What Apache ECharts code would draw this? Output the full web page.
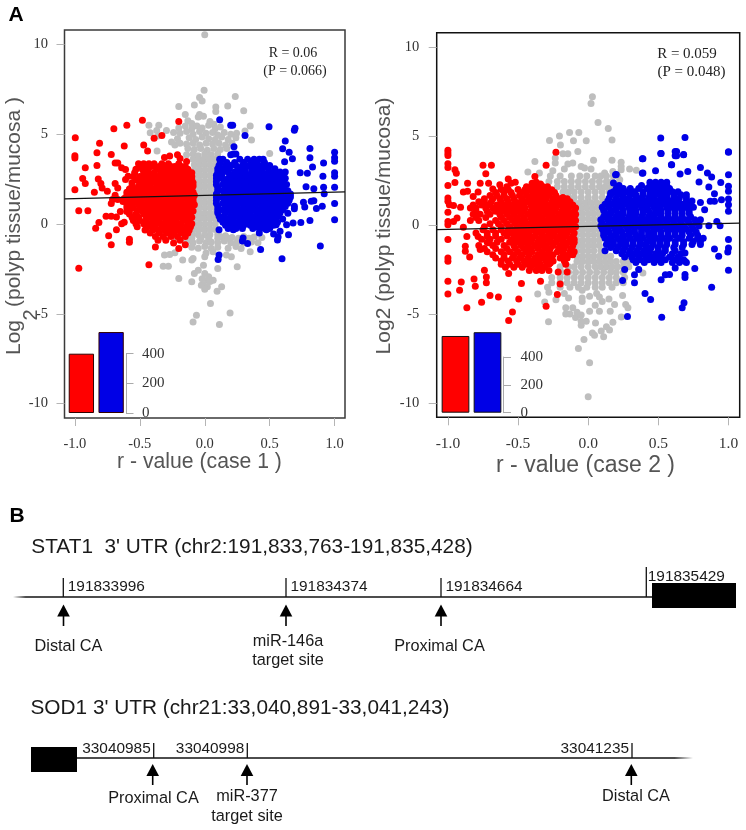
<!DOCTYPE html>
<html><head><meta charset="utf-8">
<script src="https://cdn.jsdelivr.net/npm/echarts@6/dist/echarts.min.js"></script>
<style>html,body{margin:0;padding:0;background:#fff}#c{width:746px;height:830px}</style>
</head><body><div id="c"></div>
<script>
const xTicks=[-1,-0.5,0,0.5,1];
const yTicks=[10,5,0,-5,-10];
const barNames=['negative','positive'];
const caseOneBars=[400,546];
const caseTwoBars=[551,578];
const caseOneFit=[[-1.08,1.4],[1.08,1.79]];
const caseTwoFit=[[-1.08,-0.26],[1.08,0.11]];

const caseOneGray=[[0,10.54],[-.005,7.45],[-.04,7.04],[-.02,6.85],[.235,7.1],[-.2,6.54],[-.08,6.63],[.085,6.52],[.085,6.26],[.177,6.57],[.3,6.3],[-.15,6.1],[-.04,6.1],[-.05,5.95],[-.01,6],[-.43,5.5],[-.354,5.5],[-.37,5.2],[-.295,5.2],[-.42,5.08],[-.36,4.9],[.35,5.45],[.31,5.18],[.245,5.05],[.36,4.67],[-.367,4.06],[-.256,4.56],[-.23,4.4],[.5,3.93],
[-.13,5.75],[-.1,5.6],[.04,5.7],[.07,5.55],[-.2,5.35],[-.15,5.45],[-.1,5.3],[-.06,5.45],[-.02,5.35],[.03,5.5],[.08,5.3],[.12,5.4],
[-.24,5.1],[-.19,5.05],[-.14,5.15],[-.09,5],[-.04,5.15],[.01,5.05],[.06,5.1],[.1,4.95],[.15,5.1],[.2,5],
[-.21,4.75],[-.12,4.8],[-.07,4.7],[-.02,4.85],[.03,4.75],[.08,4.7],[.13,4.85],[.18,4.7],[.24,4.8],
[-.19,4.5],[-.14,4.45],[-.09,4.5],[-.04,4.4],[.01,4.5],[.06,4.45],[.11,4.5],[.16,4.4],[.21,4.5],
[-.13,4.2],[-.08,4.15],[-.03,4.2],[.02,4.1],[.07,4.2],[.12,4.15],[.17,4.2],[-.14,3.85],[-.09,3.9],[-.05,3.8],[0,3.9],[.05,3.85],[.1,3.9],
[-.4,-.25],[-.35,-.35],[-.32,-.7],[.12,-.7],[.16,-.65],[.21,-.75],[.3,-.7],[.38,-.72],[.44,-.75],[-.14,-1],[-.09,-1.05],[-.04,-.95],[.01,-1.05],[.05,-1],[.1,-1.05],[.15,-.95],[.2,-1.05],[.25,-1],[.3,-1.05],[.36,-1],[.41,-1.05],[-.1,-1.3],[-.05,-1.35],[0,-1.25],[.05,-1.35],[.1,-1.3],[.18,-1.35],[.24,-1.25],[.28,-1.36],
[-.31,-1.73],[-.27,-1.7],[-.23,-1.6],[-.17,-2],[-.1,-2],[-.09,-1.92],[0,-1.82],[.01,-1.62],[.064,-1.55],[.167,-1.73],[.205,-1.82],[.35,-1.55],[-.32,-2.35],[-.28,-2.35],[-.01,-2.29],[.1,-2.48],[.25,-2.38],[-.05,-2.57],[-.08,-2.76],[-.2,-3.03],[-.1,-3.22],[0,-2.76],[.03,-2.94],[.02,-3.13],[.065,-3.13],[-.01,-3.4],[.02,-3.5],[.13,-3.5],[.095,-3.74],[0,-3.63],[-.026,-3.41],[.044,-4.43],[-.064,-5.08],[-.09,-5.46],[.113,-5.59],[.195,-4.95],[.04,-3.2],[-.02,-3.05]];
// dense core, one row per line: y, then x values read across the band
const caseOneGrayRows=[[3.6,-.09,-.05,-.01,.03,.07,.1],[3.3,-.08,-.04,0,.04,.08],[3,-.08,-.04,0,.04,.08],[2.7,-.08,-.04,0,.04,.08],[2.4,-.08,-.04,0,.04,.08],[2.1,-.08,-.04,0,.04,.08],[1.8,-.08,-.04,0,.04,.08],[1.5,-.08,-.04,0,.04,.08],[1.2,-.08,-.04,0,.04,.08],[.9,-.08,-.04,0,.04,.08],[.6,-.08,-.04,0,.04,.08],[.3,-.08,-.04,0,.04,.08],[0,-.08,-.04,0,.04,.08],[-.3,-.08,-.04,0,.04,.08],[-.6,-.1,-.05,0,.04,.1],[-.8,-.22,-.16,-.1,-.03,.03,.1,.18,.26,.34]];

const caseOneRed=[[-.997,4.8],[-1,3.8],[-1,3.67],[-.92,3.13],[-.81,4.5],[-.83,3.97],[-.7,5.3],[-.6,5.5],[-.48,5.77],[-.2,5.7],[-.33,4.93],[-.39,4.78],[-.47,4.4],[-.62,4.34],[-.44,4.06],[-.72,3.87],[-.83,3.26],[-.69,3.4],[-.67,3.4],[-.64,3.13],[-.61,3.03],[-.94,2.53],[-.92,2.25],[-.82,2.5],[-.8,2.25],[-.79,2],[-.69,2.25],[-.67,2],[-.61,2.48],[-.59,2.66],[-1,1.9],[-.85,1.77],[-.75,1.82],[-.69,1.6],[-.71,1.36],[-.72,1.14],[-.67,1.36],[-.97,.74],[-.9,.74],[-.76,.43],[-.72,.43],[-.68,.39],[-.65,.7],[-.6,.7],[-.815,.09],[-.84,-.24],[-.68,-.32],[-.74,-.65],[-.64,.02],[-.62,.1],[-.72,-1.15],[-.58,-1.02],[-.97,-2.46],[-.43,-2.27],[-.38,-1.28],[-.2,-1.36],[-.15,-1.15],[-.24,-1.06],[-.3,-.9],[-.36,-.9],[-.58,-.85],[-.19,-.9],[-.31,3.7],[-.27,3.78],[-.21,3.85],[-.19,3.65],[-.14,3.48]];
const caseOneRedRows=[[3.35,-.51,-.47,-.43,-.39,-.33,-.28,-.2],[3.05,-.53,-.48,-.44,-.37,-.33,-.29,-.25,-.21,-.17,-.13],[3.2,-.5,-.45,-.41,-.35,-.31,-.26,-.23,-.18,-.15],[2.85,-.54,-.47,-.43,-.39,-.34,-.3,-.26,-.22,-.18,-.14,-.1],[2.65,-.55,-.5,-.45,-.41,-.36,-.32,-.28,-.24,-.2,-.16,-.12,-.1],[2.47,-.53,-.48,-.44,-.4,-.35,-.31,-.27,-.22,-.18,-.14,-.1],[2.3,-.56,-.5,-.46,-.42,-.38,-.33,-.29,-.25,-.2,-.16,-.12,-.09],[2.12,-.56,-.51,-.46,-.42,-.37,-.32,-.28,-.24,-.2,-.16,-.12,-.09],[1.95,-.58,-.53,-.48,-.44,-.39,-.35,-.3,-.26,-.22,-.18,-.14,-.1],[1.77,-.6,-.56,-.51,-.46,-.42,-.37,-.33,-.28,-.24,-.2,-.16,-.12,-.09],[1.6,-.6,-.55,-.5,-.46,-.41,-.37,-.33,-.28,-.24,-.2,-.15,-.11,-.08],[1.42,-.62,-.57,-.52,-.48,-.44,-.39,-.35,-.3,-.26,-.22,-.17,-.13,-.09],[1.25,-.63,-.58,-.53,-.49,-.44,-.4,-.35,-.31,-.26,-.22,-.18,-.13,-.09],[1.07,-.6,-.56,-.51,-.47,-.42,-.38,-.34,-.29,-.25,-.2,-.16,-.12,-.08],[.9,-.6,-.55,-.5,-.46,-.41,-.36,-.32,-.28,-.23,-.19,-.14,-.1],[.72,-.58,-.52,-.48,-.44,-.39,-.35,-.3,-.26,-.21,-.17,-.12,-.09],[.55,-.58,-.53,-.47,-.43,-.38,-.33,-.29,-.25,-.2,-.16,-.11],[.37,-.56,-.51,-.45,-.41,-.36,-.31,-.27,-.23,-.18,-.14,-.1],[.2,-.55,-.5,-.45,-.4,-.35,-.3,-.26,-.22,-.17,-.12],[.02,-.53,-.47,-.42,-.37,-.32,-.27,-.23,-.18,-.13,-.1],[-.15,-.52,-.44,-.39,-.33,-.29,-.24,-.19,-.14,-.11],[-.33,-.46,-.4,-.36,-.31,-.26,-.21,-.16,-.12],[-.5,-.42,-.35,-.29,-.24,-.18,-.13],[-.7,-.38,-.32,-.26,-.21,-.15]];

const caseOneBlue=[[.115,5.8],[.2,5.5],[.215,5.5],[.495,5.42],[.695,5.33],[.69,5.22],[.31,4.92],[.62,4.62],[.6,4.19],[.65,4],[.81,4.2],[.81,3.69],[.225,4.3],[.22,3.9],[1,4],[1,3.69],[1,3.5],[.915,3.39],[.83,3.18],[.615,3.46],[.675,3.63],[.735,2.85],[.79,2.83],[.91,2.66],[1,2.85],[1,2.66],[.78,2.07],[.84,1.96],[.915,2.05],[.92,1.68],[1,2.05],[.76,1.21],[.77,.95],[.82,1.27],[.84,1.3],[.86,.86],[.905,.99],[1,1.14],[1,.24],[.81,.2],[.74,.09],[.68,.06],[.69,.99],[.69,.85],[.62,1.36],[.64,.6],[.6,.28],[.63,-.04],[.55,-.04],[.475,-.32],[.645,-.6],[.565,-.73],[.11,-.32],[.22,-.32],[.295,-.78],[.42,-.5],[.53,-.55],[.58,-.4],[.11,-1.73],[.103,-1.97],[.33,-1.08],[.29,-.95],[.43,-1.42],[.595,-1.94],[.89,-1.23],[.56,-.89],[.2,3.85],[.24,3.9]];
const caseOneBlueRows=[[3.6,.115,.14,.27,.33,.38,.42,.45],[3.42,.12,.17,.23,.3,.36,.4,.46],[3.25,.11,.16,.2,.24,.29,.34,.38,.42,.46,.5],[3.07,.1,.15,.19,.26,.31,.36,.4,.44,.49,.54],[2.9,.1,.14,.18,.23,.27,.31,.36,.4,.44,.49,.53,.58,.62],[2.72,.09,.13,.2,.24,.29,.33,.38,.42,.46,.51,.55,.6],[2.55,.09,.13,.18,.22,.26,.31,.35,.39,.44,.48,.52,.57,.62],[2.37,.09,.15,.2,.24,.29,.33,.38,.42,.46,.51,.55,.6],[2.2,.09,.14,.18,.22,.27,.31,.36,.4,.44,.49,.53,.58,.63],[2.02,.1,.16,.2,.25,.29,.34,.38,.43,.47,.52,.56,.61],[1.85,.1,.14,.19,.23,.28,.32,.37,.41,.46,.5,.55,.59,.64],[1.67,.09,.16,.21,.25,.3,.34,.39,.43,.48,.52,.57,.62,.66],[1.5,.09,.13,.18,.22,.27,.31,.36,.4,.45,.49,.54,.58,.63,.66],[1.32,.09,.15,.2,.25,.29,.34,.38,.43,.47,.52,.56,.61,.65],[1.15,.09,.14,.18,.23,.28,.32,.37,.41,.46,.5,.55,.6,.64],[.97,.1,.16,.21,.25,.3,.35,.39,.44,.48,.53,.58,.62],[.8,.1,.14,.19,.24,.28,.33,.37,.42,.47,.51,.56,.6],[.62,.1,.16,.21,.26,.31,.35,.4,.45,.49,.54,.58],[.45,.11,.15,.2,.25,.29,.34,.39,.43,.48,.52,.57],[.27,.12,.17,.22,.27,.31,.36,.41,.45,.5,.54],[.1,.14,.19,.23,.28,.33,.38,.42,.47,.51,.56],[-.07,.16,.21,.26,.3,.35,.4,.44,.49,.53],[-.25,.18,.24,.29,.37,.42,.46,.5]];

const caseTwoGray=[[.03,7.2],[.02,6.82],[.07,5.76],[.143,5.42],[.17,4.78],[-.205,5],[-.133,5.2],[-.067,5.2],[-.276,4.75],[-.105,4.73],[-.014,4.73],[-.198,4.5],[-.074,4.13],[-.18,4],[-.145,4],[-.38,3.57],[-.235,3.76],[-.235,3.48],[.038,3.63],[.17,3.63],[.235,3.53],[.235,3.29],[.235,3.1],[.295,3.14],[.343,3.07],[-.43,2.97],[-.348,2.92],[-.252,3.05],[-.17,3.14],[-.145,3.42],[-.11,3.48],[-.05,3.29],[-.026,3.2],[.02,3.14],[.117,2.92],[.176,3],[.225,2.54],[.39,-2.69],[.36,-2.5],[-.36,-3.87],[.245,-3.96],[-.31,-4.32],[.267,-4.47],[.283,-4.65],[-.283,-5.44],[.176,-5.46],[.236,-5.16],[.13,-5.72],[.152,-5.9],[.093,-5.96],[.03,-6.06],[.045,-6.19],[.11,-6.28],[-.03,-6.43],[-.07,-6.93],[.01,-7.74],[0,-9.64],[.052,-5.5],[-.05,-5.63],[-.014,-5.4],[-.05,-5.4],[-.09,-5.2],[-.05,-5.05],[-.13,-5],[-.16,-5],[.01,-4.84],[.08,-4.84],[.157,-4.84],[-.08,-4.9],[-.16,-4.65],[-.11,-4.65],[.05,-4.5],[.188,-4.47],[.1,-4.3],[-.043,-4.3],[-.043,-4.1],[-.14,-4.1],[-.23,-4.2],[.148,-4.15],[.08,-4.05],[.01,-4],[.06,-3.85],[-.17,-3.85],[-.28,-3.78],[-.043,-3.66]];
const caseTwoGrayRows=[[2.75,-.27,-.2,-.12,-.06,-.01,.05,.09,.13,.18,.21],[2.45,-.28,-.22,-.17,-.12,-.07,-.02,.03,.08,.13,.17],[2.15,-.22,-.17,-.12,-.07,-.02,.03,.08,.12,.16,.2],[1.85,-.18,-.14,-.1,-.05,0,.05,.1,.15],[1.55,-.14,-.1,-.05,0,.05,.1],[1.25,-.1,-.06,-.02,.02,.06,.1],[.95,-.09,-.05,-.01,.03,.07,.1],[.65,-.08,-.04,0,.04,.08],[.35,-.08,-.04,0,.04,.08],[.05,-.08,-.04,0,.04,.08],[-.25,-.08,-.04,0,.04,.08],[-.55,-.08,-.04,0,.04,.08],[-.85,-.08,-.04,0,.04,.08],[-1.15,-.08,-.04,0,.04,.08],[-1.45,-.08,-.04,0,.04,.09],[-1.75,-.08,-.04,0,.04,.08,.12,.16],[-2.05,-.08,-.04,0,.04,.08,.12,.16,.2,.25,.29],[-2.35,-.2,-.14,-.1,-.05,0,.05,.09,.13,.17,.21,.25,.29],[-2.65,-.19,-.14,-.09,-.04,.01,.06,.11,.16,.2,.25],[-2.95,-.26,-.2,-.15,-.1,-.05,0,.05,.1,.15,.2,.26],[-3.25,-.26,-.2,-.15,-.1,-.05,0,.05,.1,.15,.2,.25],[-3.5,-.29,-.2,-.13,-.07,-.01,.05,.1,.17]];

const caseTwoRed=[[-1,4.2],[-1,4.04],[-1,3.9],[-1,3.44],[-1,3.23],[-.95,3.1],[-.94,2.9],[-.75,3.35],[-.69,3.35],[-.73,2.88],[-.23,4.09],[-.3,3.35],[-1,2.22],[-.95,2.39],[-.86,2.35],[-.77,2.35],[-.89,1.85],[-.86,1.9],[-.82,1.6],[-.785,1.85],[-.71,2.35],[-.68,2.02],[-.63,2.26],[-.57,2.58],[-1,1.51],[-1,1.33],[-.99,1.14],[-.96,1.1],[-.91,1],[-1,.71],[-.935,.39],[-.96,.2],[-1,.2],[-1,.02],[-.89,-.13],[-.865,-.64],[-1,-.82],[-.785,-.64],[-.77,-1.38],[-.71,-1],[-.876,-1.2],[-.876,-1.48],[-.845,-1.8],[-1,-1.85],[-1,-2.04],[-.74,-2.54],[-.726,-2.92],[-.726,-3.25],[-.814,-3.03],[-.805,-3.44],[-.905,-3.2],[-.917,-3.66],[-1,-3.16],[-1,-3.87],[-.7,-3.96],[-.64,-4.04],[-.76,-4.34],[-.865,-4.65],[-.495,-4.15],[-.567,-2.73],[-.476,-3.29],[-.34,-3.16],[-.2,-3.31],[-.22,-3.9],[-.3,-4.56],[-.27,-2.13],[-.214,-2.64],[-.15,-2.64],[-.54,-4.88],[-.567,-5.37],[-.38,2.72],[-.55,2.35],[-.52,2.4],[-.4,2.35],[-.37,2.4],[-.34,2.3],[-.26,1.98],[-.18,1.55],[-.13,1.3]];
const caseTwoRedRows=[[2.15,-.58,-.44,-.4,-.36,-.32,-.29],[2,-.62,-.57,-.5,-.45,-.41,-.37,-.33,-.3],[1.82,-.66,-.6,-.55,-.48,-.44,-.39,-.35,-.31,-.27,-.24],[1.65,-.7,-.65,-.6,-.54,-.49,-.44,-.4,-.36,-.32,-.28,-.23],[1.47,-.74,-.68,-.63,-.58,-.53,-.47,-.42,-.38,-.34,-.3,-.25,-.2,-.15],[1.3,-.78,-.74,-.69,-.62,-.57,-.52,-.48,-.44,-.39,-.35,-.31,-.26,-.22,-.17],[1.12,-.82,-.76,-.71,-.65,-.6,-.55,-.5,-.46,-.41,-.37,-.33,-.28,-.24,-.2,-.15,-.11],[.95,-.84,-.8,-.73,-.68,-.63,-.58,-.53,-.49,-.45,-.4,-.36,-.31,-.27,-.23,-.18,-.14,-.09],[.77,-.8,-.72,-.66,-.6,-.55,-.5,-.46,-.41,-.37,-.33,-.28,-.24,-.19,-.15,-.1],[.6,-.82,-.77,-.7,-.63,-.58,-.53,-.48,-.43,-.39,-.35,-.3,-.26,-.21,-.17,-.12,-.09],[.42,-.8,-.73,-.62,-.56,-.51,-.46,-.41,-.37,-.33,-.28,-.24,-.19,-.15,-.1],[.25,-.84,-.78,-.66,-.6,-.54,-.49,-.45,-.4,-.36,-.31,-.27,-.22,-.18,-.13,-.09],[.07,-.7,-.64,-.58,-.52,-.47,-.43,-.38,-.34,-.29,-.25,-.2,-.16,-.11],[-.1,-.74,-.62,-.56,-.5,-.46,-.41,-.37,-.32,-.28,-.23,-.19,-.14,-.09],[-.27,-.75,-.68,-.62,-.57,-.52,-.47,-.43,-.39,-.34,-.3,-.25,-.21,-.16,-.12],[-.45,-.8,-.72,-.66,-.6,-.55,-.5,-.46,-.42,-.37,-.33,-.28,-.24,-.19,-.15,-.1],[-.62,-.72,-.66,-.58,-.52,-.47,-.42,-.38,-.33,-.29,-.25,-.2,-.16,-.11],[-.8,-.76,-.7,-.62,-.54,-.49,-.44,-.4,-.35,-.31,-.27,-.22,-.18,-.13,-.1],[-.97,-.72,-.65,-.56,-.51,-.46,-.41,-.36,-.32,-.27,-.23,-.18,-.14,-.1],[-1.15,-.78,-.68,-.6,-.53,-.48,-.43,-.38,-.34,-.3,-.25,-.2,-.16,-.11],[-1.32,-.74,-.66,-.58,-.52,-.46,-.41,-.36,-.31,-.27,-.21,-.17,-.12],[-1.5,-.72,-.62,-.56,-.5,-.44,-.4,-.33,-.28,-.22,-.18,-.13,-.1],[-1.67,-.68,-.6,-.53,-.47,-.42,-.36,-.3,-.25,-.18,-.14,-.11],[-1.85,-.66,-.6,-.54,-.49,-.43,-.38,-.33,-.28,-.2,-.15],[-2.02,-.62,-.57,-.51,-.46,-.41,-.35,-.3,-.25,-.17],[-2.2,-.62,-.56,-.5,-.44,-.38,-.34,-.28,-.16],[-2.37,-.59,-.53,-.47,-.41,-.36,-.31],[-2.55,-.42,-.37,-.33,-.28]];

const caseTwoBlue=[[.2,2.84],[.18,2.36],[.16,1.8],[.39,3.72],[.39,2.92],[.48,3.05],[.52,4.02],[.595,3.38],[.63,4.13],[.63,3.89],[.68,3.96],[.655,2.86],[.71,3],[.8,3.23],[.85,2.92],[.88,2.69],[1,4.09],[1,2.82],[.79,2.41],[.86,2.13],[.945,2.39],[1,2.17],[1,1.89],[1,1.46],[1,1.14],[1,.77],[.95,1.42],[.9,1.76],[.9,1.33],[.87,1.33],[.8,1.27],[.83,.86],[.86,-.04],[.94,-.04],[.917,.2],[1,-.82],[1,-1.29],[.995,-1.51],[.93,-1.76],[.9,-1.35],[1,-2.54],[.88,-3.5],[.76,-2.45],[.69,-1.57],[.69,-2.04],[.69,-2.78],[.69,-2.95],[.62,-2.41],[.58,-2.78],[.52,-3.07],[.55,-2.8],[.405,-3.85],[.445,-4.19],[.683,-4.37],[.67,-4.65],[.33,-3.25],[.245,-3.12],[.26,-2.5],[.33,-2.79],[.36,-2.5],[.28,-5.14],[.524,-5.18],[.517,4.88],[.69,4.92],[.517,4.02],[.62,4.13],[.62,3.89],[.68,3.94],[.386,3.72],[.593,3.38],[1,4.11],[.386,2.9],[.195,2.82]];
const caseTwoBlueRows=[[2.4,.44,.48,.52,.56],[2.22,.22,.38,.44,.48,.52,.56],[2.05,.2,.25,.3,.36,.42,.46,.5,.54,.58],[1.87,.18,.23,.28,.33,.39,.44,.48,.52,.56,.6,.64],[1.7,.16,.21,.25,.3,.34,.39,.44,.48,.52,.56,.61,.66,.7],[1.52,.15,.2,.25,.29,.34,.38,.43,.47,.52,.56,.61,.65,.7],[1.35,.14,.19,.23,.28,.32,.37,.41,.46,.5,.55,.59,.64,.7,.74],[1.17,.12,.17,.22,.26,.31,.35,.4,.44,.49,.53,.58,.62,.67,.72],[1,.1,.15,.2,.24,.29,.33,.38,.42,.47,.51,.56,.6,.65,.7,.75],[.82,.11,.16,.2,.25,.3,.34,.39,.43,.48,.52,.57,.62,.67,.72],[.65,.12,.16,.21,.25,.3,.34,.39,.44,.48,.52,.57,.62,.67,.72],[.47,.11,.15,.2,.24,.29,.33,.38,.43,.47,.52,.57,.62,.67,.73],[.3,.09,.14,.18,.23,.27,.32,.36,.41,.45,.5,.55,.6,.65,.7,.76,.8],[.12,.1,.15,.2,.24,.29,.33,.38,.42,.47,.51,.56,.61,.66,.72,.77],[-.05,.09,.13,.18,.22,.27,.31,.36,.4,.45,.49,.54,.58,.63,.68,.74,.79],[-.22,.1,.14,.19,.23,.28,.33,.38,.42,.47,.51,.56,.6,.65,.7,.75],[-.4,.11,.15,.2,.24,.29,.33,.38,.43,.47,.52,.57,.62,.67,.72,.77],[-.57,.11,.16,.2,.25,.29,.34,.38,.43,.47,.52,.57,.62,.67,.73,.78],[-.75,.12,.16,.21,.25,.3,.35,.39,.44,.48,.53,.58,.65,.72,.78,.82],[-.92,.14,.18,.23,.27,.32,.37,.42,.46,.51,.56,.62,.68,.75,.8],[-1.1,.13,.18,.23,.27,.32,.37,.41,.46,.51,.56,.62,.68,.74,.8],[-1.27,.16,.21,.26,.31,.36,.41,.45,.5,.55,.61,.67],[-1.45,.12,.2,.25,.3,.35,.4,.44,.5,.55,.62],[-1.62,.24,.29,.33,.38,.43,.48,.53,.6,.66],[-1.8,.26,.31,.36,.41,.46,.51,.58,.64],[-1.95,.32,.37,.43,.5,.55,.62,.68],[-2.1,.34,.4,.47,.52,.6,.65,.7]];

// Gene diagram: schematic track positions
const stat1Labels=['191833996','191834374','191834664','191835429'];
const stat1TrackPos=[63.3,286,441,646.3];
const stat1TickTop=[578,578,578,567];
const stat1TextRow=[587,587,587,577];
const stat1Arrows=[63.5,286,441];
const stat1Notes=['Distal CA','miR-146a','target site','Proximal CA'];
const stat1NotePos=[[68.5,647],[288,642],[288,661],[439.5,647]];
const sod1Labels=['33040985','33040998','33041235'];
const sod1TrackPos=[153.7,247.3,632];
const sod1Arrows=[152.7,247,631.3];
const sod1Notes=['Proximal CA','miR-377','target site','Distal CA'];
const sod1NotePos=[[153.5,799],[247,797],[247,817],[636,797]];
const exonBoxes=[[652,736,583,608],[31,77,747,772]];
const trackLines=[[13,652,597],[77,693,758]];

const rowsToPoints=rows=>rows.flatMap(r=>r.slice(1).map(x=>[x,r[0]]));
const SANS='"Liberation Sans",Arial,sans-serif', SERIF='"Liberation Serif","Times New Roman",serif';
const grid=[
 {left:64.5,top:30,width:280.5,height:388,show:true,borderColor:'#3a3a3a',borderWidth:1.5,backgroundColor:'#fff'},
 {left:66.5,top:353.7,width:59.5,height:59.3},
 {left:436.7,top:32.7,width:303,height:384.6,show:true,borderColor:'#111',borderWidth:1.5,backgroundColor:'#fff'},
 {left:439.5,top:357,width:64,height:55.7},
 {left:0,top:0,width:746,height:830}
];
function mainX(i,fs,m){return {gridIndex:i,type:'value',min:-1.08,max:1.08,splitLine:{show:false},axisLine:{show:false,onZero:false},
 axisTick:{show:true,length:8,customValues:xTicks,lineStyle:{color:'#b5b5b5'}},
 axisLabel:{customValues:xTicks,fontFamily:SERIF,fontSize:fs,color:'#333',margin:m,formatter:v=>v.toFixed(1)}};}
function mainY(i,fs,m){return {gridIndex:i,type:'value',min:-10.8,max:10.8,splitLine:{show:false},axisLine:{show:false,onZero:false},
 axisTick:{show:true,length:8,customValues:yTicks,lineStyle:{color:'#b5b5b5'}},
 axisLabel:{customValues:yTicks,fontFamily:SERIF,fontSize:fs,color:'#333',margin:m}};}
function insetX(i){return {gridIndex:i,type:'category',data:barNames,show:false};}
function insetY(i,m){return {gridIndex:i,type:'value',min:0,max:400,interval:200,position:'right',splitLine:{show:false},
 axisLine:{show:true,lineStyle:{color:'#aaa'}},axisTick:{show:true,length:7.5,lineStyle:{color:'#aaa'}},
 axisLabel:{fontFamily:SERIF,fontSize:15,color:'#333',margin:m}};}
const pts=(i,d,c)=>({type:'scatter',xAxisIndex:i,yAxisIndex:i,data:d,symbolSize:7,itemStyle:{color:c,opacity:1},silent:true,clip:false,animation:false});
const fit=(i,d)=>({type:'line',xAxisIndex:i,yAxisIndex:i,data:d,symbol:'none',lineStyle:{color:'#111',width:1.2},z:5,animation:false});
const bars=(i,d,w,bc)=>({type:'bar',xAxisIndex:i,yAxisIndex:i,barWidth:w,clip:false,z:6,animation:false,
 data:d.map((v,k)=>({value:v,itemStyle:{color:k?'#0000e6':'#ff0000',borderColor:bc,borderWidth:1}}))});
const D=4;
const segs=[];
stat1TrackPos.forEach((x,i)=>segs.push([x,stat1TickTop[i],x,597,1.3]));
sod1TrackPos.forEach(x=>segs.push([x,743,x,758,1.3]));
const segSeries={type:'custom',xAxisIndex:D,yAxisIndex:D,data:segs,silent:true,animation:false,renderItem(p,api){
 const s=segs[p.dataIndex],a=api.coord([s[0],s[1]]),b=api.coord([s[2],s[3]]);
 return {type:'line',shape:{x1:a[0],y1:a[1],x2:b[0],y2:b[1]},style:{stroke:'#111',lineWidth:s[4]}};}};
const trackSeries={type:'custom',xAxisIndex:D,yAxisIndex:D,data:trackLines,silent:true,animation:false,renderItem(p,api){
 const s=trackLines[p.dataIndex],a=api.coord([s[0],s[2]]),b=api.coord([s[1],s[2]]);
 const fadeLeft=p.dataIndex===0;
 const stops=fadeLeft?[{offset:0,color:'rgba(0,0,0,0)'},{offset:.02,color:'#111'},{offset:1,color:'#111'}]:[{offset:0,color:'#111'},{offset:.97,color:'#111'},{offset:1,color:'rgba(0,0,0,0)'}];
 return {type:'line',shape:{x1:a[0],y1:a[1],x2:b[0],y2:b[1]},style:{stroke:new echarts.graphic.LinearGradient(a[0],0,b[0],0,stops,true),lineWidth:1.7}};}};
const boxSeries={type:'custom',xAxisIndex:D,yAxisIndex:D,data:exonBoxes,silent:true,animation:false,renderItem(p,api){
 const s=exonBoxes[p.dataIndex],a=api.coord([s[0],s[2]]),b=api.coord([s[1],s[3]]);
 return {type:'rect',shape:{x:a[0],y:a[1],width:b[0]-a[0],height:b[1]-a[1]},style:{fill:'#000'}};}};
const arrows=stat1Arrows.map(x=>[x,604.5,626]).concat(sod1Arrows.map(x=>[x,764,785]));
const arrowSeries={type:'custom',xAxisIndex:D,yAxisIndex:D,data:arrows,silent:true,animation:false,renderItem(p,api){
 const s=arrows[p.dataIndex],t=api.coord([s[0],s[1]]),e=api.coord([s[0],s[2]]);
 return {type:'group',children:[
  {type:'polygon',shape:{points:[[t[0],t[1]],[t[0]+6.3,t[1]+12],[t[0]-6.3,t[1]+12]]},style:{fill:'#000'}},
  {type:'line',shape:{x1:t[0],y1:t[1]+11,x2:e[0],y2:e[1]},style:{stroke:'#000',lineWidth:1.6}}]};}};
const texts=[];
stat1Labels.forEach((l,i)=>texts.push([stat1TrackPos[i]+(i==3?1.5:4.5),stat1TextRow[i],l,'left',15.4]));
sod1Labels.forEach((l,i)=>texts.push([sod1TrackPos[i]-3,749,l,'right',15.4]));
stat1Notes.forEach((l,i)=>texts.push([stat1NotePos[i][0],stat1NotePos[i][1],l,'center',16.3]));
sod1Notes.forEach((l,i)=>texts.push([sod1NotePos[i][0],sod1NotePos[i][1],l,'center',16.3]));
const textSeries={type:'custom',xAxisIndex:D,yAxisIndex:D,data:texts,silent:true,animation:false,renderItem(p,api){
 const s=texts[p.dataIndex],a=api.coord([s[0],s[1]]);
 return {type:'text',x:a[0],y:a[1],style:{text:s[2],fill:'#1a1a1a',font:s[4]+'px '+SANS,textAlign:s[3],textVerticalAlign:'middle'}};}};
const t=(x,y,text,font,fill,extra)=>Object.assign({type:'text',x,y,z:20,silent:true,style:{text,font,fill:fill||'#222',textAlign:'center',textVerticalAlign:'middle'}},extra||{});
const rot={rotation:Math.PI/2};
const graphic=[
 t(16,15,'A','bold 21px '+SANS,'#000'),
 t(17,516,'B','bold 21px '+SANS,'#000'),
 t(293,53,'R = 0.06','14px '+SERIF,'#222'),
 t(295,71,'(P = 0.066)','14px '+SERIF,'#222'),
 t(687,54,'R = 0.059','15px '+SERIF,'#222'),
 t(691.5,72,'(P = 0.048)','15px '+SERIF,'#222'),
 t(14,337.5,'Log','21px '+SANS,'#555',rot),
 t(31,315,'2','20px '+SANS,'#555',rot),
 t(14,202,'(polyp tissue/mucosa )','21px '+SANS,'#555',rot),
 t(384,226,'Log2 (polyp tissue/mucosa)','21px '+SANS,'#555',rot),
 t(199.5,462,'r - value (case 1 )','21.2px '+SANS,'#555'),
 t(585.5,466,'r - value (case 2 )','23px '+SANS,'#555'),
 t(252,547,"STAT1  3' UTR (chr2:191,833,763-191,835,428)",'20.8px '+SANS,'#1a1a1a'),
 t(240,708,"SOD1 3' UTR (chr21:33,040,891-33,041,243)",'20.8px '+SANS,'#1a1a1a')
];
const chart=echarts.init(document.getElementById('c'),null,{renderer:'canvas'});
chart.setOption({animation:false,backgroundColor:'#fff',grid,graphic,
 xAxis:[mainX(0,14.5,19),insetX(1),mainX(2,15.5,19),insetX(3),{gridIndex:D,type:'value',min:0,max:746,show:false}],
 yAxis:[mainY(0,14.5,16.5),insetY(1,16),mainY(2,14.5,17.5),insetY(3,17),{gridIndex:D,type:'value',min:0,max:830,inverse:true,show:false}],
 series:[
  pts(0,caseOneGray.concat(rowsToPoints(caseOneGrayRows)),'#bebebe'),pts(0,caseOneRed.concat(rowsToPoints(caseOneRedRows)),'#ff0000'),pts(0,caseOneBlue.concat(rowsToPoints(caseOneBlueRows)),'#0000e6'),fit(0,caseOneFit),bars(1,caseOneBars,25.3,'#300'),
  pts(2,caseTwoGray.concat(rowsToPoints(caseTwoGrayRows)),'#bebebe'),pts(2,caseTwoRed.concat(rowsToPoints(caseTwoRedRows)),'#ff0000'),pts(2,caseTwoBlue.concat(rowsToPoints(caseTwoBlueRows)),'#0000e6'),fit(2,caseTwoFit),bars(3,caseTwoBars,27.7,'#111'),
  trackSeries,segSeries,boxSeries,arrowSeries,textSeries
 ]});
</script></body></html>
